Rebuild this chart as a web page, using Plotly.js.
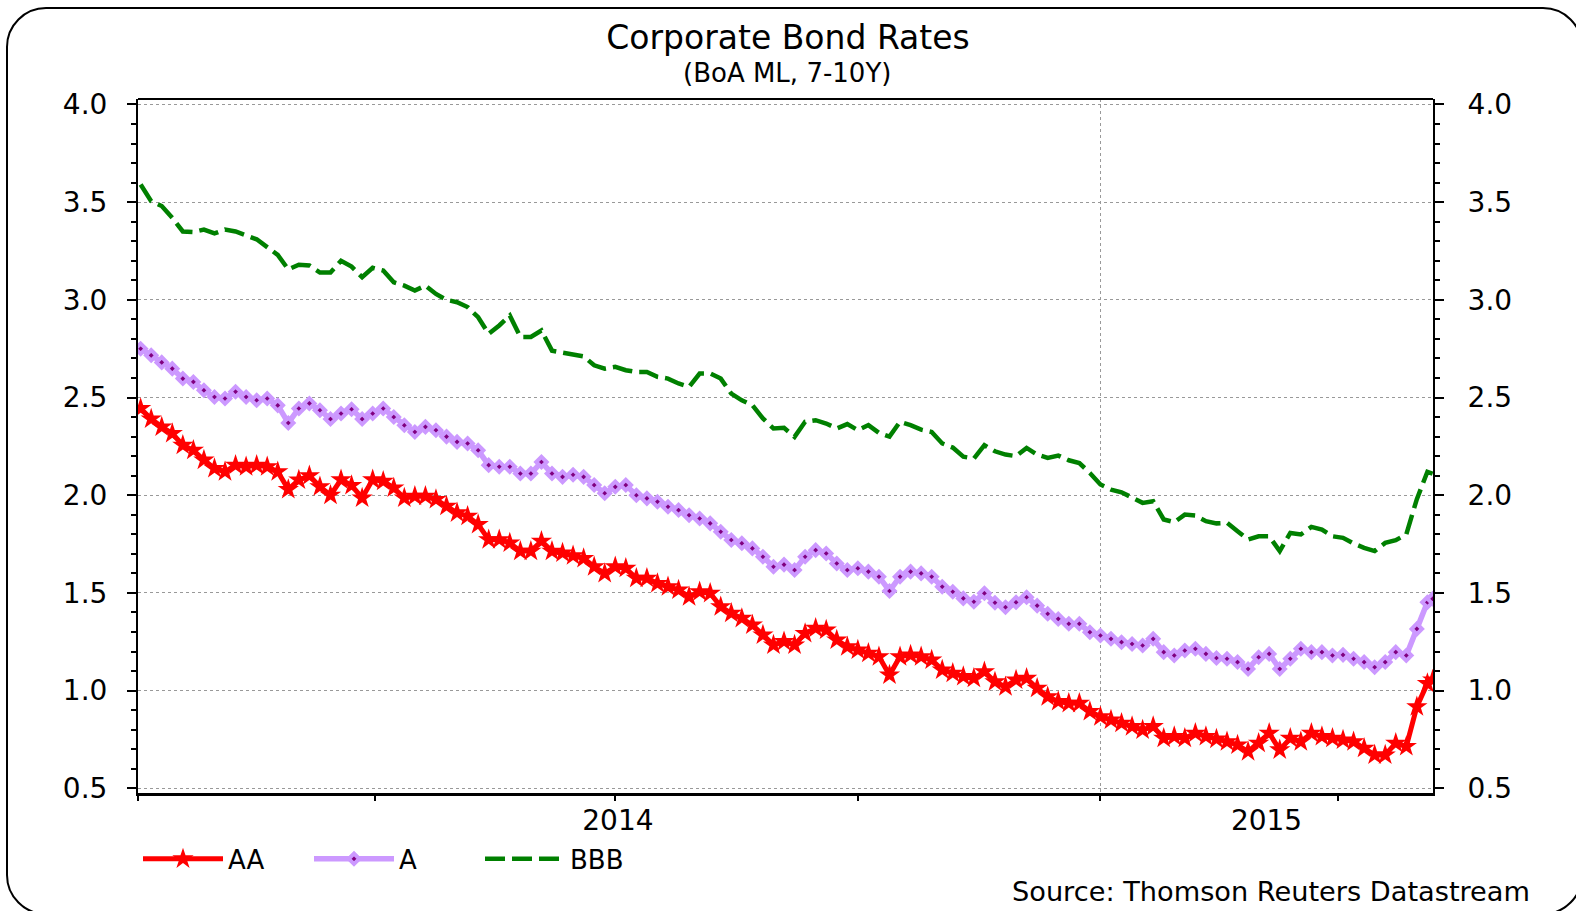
<!DOCTYPE html>
<html>
<head>
<meta charset="utf-8">
<script src="https://cdn.plot.ly/plotly-3.0.1.min.js"></script>
<style>
  html, body { margin: 0; padding: 0; background: #fff; overflow: hidden; }
  #wrap { position: relative; width: 1576px; height: 911px; overflow: hidden; }
  #chart { position: absolute; left: 0; top: 0; width: 1576px; height: 911px; }
  #frame { position: absolute; left: 6px; top: 7px; width: 1577px; height: 908px;
           border: 2px solid #000; border-radius: 40px; box-sizing: border-box; pointer-events: none; }
</style>
</head>
<body>
<div id="wrap"><div id="chart"></div><div id="frame"></div></div>
<script>
const dates = [
 '2014-01-02','2014-01-06','2014-01-10','2014-01-14','2014-01-18','2014-01-22','2014-01-26','2014-01-30',
 '2014-02-03','2014-02-07','2014-02-11','2014-02-15','2014-02-19','2014-02-23','2014-02-27',
 '2014-03-03','2014-03-07','2014-03-11','2014-03-15','2014-03-19','2014-03-23','2014-03-27','2014-03-31',
 '2014-04-04','2014-04-08','2014-04-12','2014-04-16','2014-04-20','2014-04-24','2014-04-28',
 '2014-05-02','2014-05-06','2014-05-10','2014-05-14','2014-05-18','2014-05-22','2014-05-26','2014-05-30',
 '2014-06-03','2014-06-07','2014-06-11','2014-06-15','2014-06-19','2014-06-23','2014-06-27',
 '2014-07-01','2014-07-05','2014-07-09','2014-07-13','2014-07-17','2014-07-21','2014-07-25','2014-07-29',
 '2014-08-02','2014-08-06','2014-08-10','2014-08-14','2014-08-18','2014-08-22','2014-08-26','2014-08-30',
 '2014-09-03','2014-09-07','2014-09-11','2014-09-15','2014-09-19','2014-09-23','2014-09-27',
 '2014-10-01','2014-10-05','2014-10-09','2014-10-13','2014-10-17','2014-10-21','2014-10-25','2014-10-29',
 '2014-11-02','2014-11-06','2014-11-10','2014-11-14','2014-11-18','2014-11-22','2014-11-26','2014-11-30',
 '2014-12-04','2014-12-08','2014-12-12','2014-12-16','2014-12-20','2014-12-24','2014-12-28',
 '2015-01-01','2015-01-05','2015-01-09','2015-01-13','2015-01-17','2015-01-21','2015-01-25','2015-01-29',
 '2015-02-02','2015-02-06','2015-02-10','2015-02-14','2015-02-18','2015-02-22','2015-02-26',
 '2015-03-02','2015-03-06','2015-03-10','2015-03-14','2015-03-18','2015-03-22','2015-03-26','2015-03-30',
 '2015-04-03','2015-04-07','2015-04-11','2015-04-15','2015-04-19','2015-04-23','2015-04-27',
 '2015-05-01','2015-05-05','2015-05-07'
];

const aaRates = [
 2.444, 2.39, 2.35, 2.316, 2.256, 2.23, 2.18, 2.137,
 2.12, 2.154, 2.146, 2.154, 2.146, 2.12, 2.03,
 2.078, 2.10, 2.044, 2.0, 2.08, 2.05, 1.986, 2.08,
 2.072, 2.037, 1.986, 1.995, 1.995, 1.978, 1.944,
 1.91, 1.893, 1.85, 1.773, 1.773, 1.756, 1.714, 1.714,
 1.765, 1.714, 1.705, 1.69, 1.677, 1.634, 1.60,
 1.634, 1.626, 1.575, 1.575, 1.549, 1.532, 1.515, 1.481,
 1.506, 1.498, 1.43, 1.396, 1.37, 1.336, 1.285, 1.234,
 1.251, 1.234, 1.293, 1.319, 1.31, 1.259, 1.225,
 1.208, 1.191, 1.174, 1.08, 1.174, 1.183, 1.174, 1.157,
 1.106, 1.089, 1.072, 1.063, 1.097, 1.045, 1.02, 1.055,
 1.063, 1.012, 0.969, 0.944, 0.935, 0.935, 0.893,
 0.867, 0.85, 0.833, 0.816, 0.799, 0.816, 0.756, 0.765,
 0.756, 0.782, 0.765, 0.752, 0.739, 0.722, 0.688,
 0.731, 0.782, 0.697, 0.756, 0.739, 0.782, 0.765, 0.756,
 0.748, 0.739, 0.705, 0.671, 0.671, 0.731, 0.714,
 0.918, 1.037, 1.055
];

const aRates = [
 2.75, 2.716, 2.68, 2.648, 2.597, 2.58, 2.537, 2.503,
 2.495, 2.53, 2.503, 2.486, 2.495, 2.46, 2.37,
 2.444, 2.47, 2.435, 2.39, 2.418, 2.44, 2.39, 2.418,
 2.444, 2.40, 2.358, 2.324, 2.35, 2.333, 2.30,
 2.273, 2.265, 2.23, 2.154, 2.146, 2.146, 2.111, 2.111,
 2.17, 2.111, 2.094, 2.105, 2.094, 2.052, 2.01,
 2.043, 2.052, 2.0, 1.984, 1.967, 1.941, 1.924, 1.898,
 1.881, 1.856, 1.813, 1.771, 1.754, 1.728, 1.685, 1.634,
 1.645, 1.617, 1.685, 1.719, 1.702, 1.651, 1.617,
 1.626, 1.609, 1.583, 1.51, 1.583, 1.609, 1.60, 1.583,
 1.532, 1.506, 1.472, 1.455, 1.498, 1.45, 1.427, 1.452,
 1.478, 1.435, 1.393, 1.367, 1.342, 1.342, 1.299,
 1.282, 1.265, 1.248, 1.239, 1.231, 1.265, 1.197, 1.18,
 1.205, 1.214, 1.188, 1.167, 1.163, 1.146, 1.111,
 1.171, 1.188, 1.111, 1.163, 1.214, 1.197, 1.197, 1.18,
 1.183, 1.163, 1.146, 1.12, 1.146, 1.197, 1.18,
 1.316, 1.452, 1.47
];

const bbbRates = [
 3.59, 3.505, 3.48, 3.42, 3.35, 3.347, 3.36, 3.34,
 3.36, 3.35, 3.33, 3.31, 3.27, 3.23, 3.156,
 3.18, 3.176, 3.14, 3.14, 3.2, 3.17, 3.116, 3.164,
 3.15, 3.09, 3.073, 3.048, 3.073, 3.03, 3.0,
 2.988, 2.963, 2.911, 2.826, 2.869, 2.92, 2.81, 2.81,
 2.843, 2.74, 2.73, 2.72, 2.711, 2.665, 2.648,
 2.657, 2.64, 2.631, 2.631, 2.606, 2.597, 2.572, 2.555,
 2.623, 2.623, 2.597, 2.52, 2.486, 2.461, 2.393, 2.342,
 2.345, 2.299, 2.376, 2.384, 2.367, 2.342, 2.364,
 2.333, 2.359, 2.319, 2.30, 2.376, 2.359, 2.336, 2.324,
 2.265, 2.244, 2.197, 2.188, 2.256, 2.225, 2.208, 2.2,
 2.242, 2.208, 2.191, 2.203, 2.179, 2.165, 2.114,
 2.055, 2.029, 2.015, 1.991, 1.961, 1.969, 1.876, 1.862,
 1.901, 1.896, 1.867, 1.856, 1.859, 1.816, 1.773,
 1.79, 1.79, 1.714, 1.807, 1.799, 1.838, 1.824, 1.79,
 1.782, 1.753, 1.731, 1.714, 1.756, 1.77, 1.80,
 1.98, 2.12, 2.11
];

const seriesNames = ['AA', 'A', 'BBB'];
const yearLabelPos = ['2014-07-02', '2015-03-05'];
const yearLabels = ['2014', '2015'];
const yearTicks = ['2014-01-01', '2015-01-01'];
const xRange = ['2014-01-01', '2015-05-07 03:00'];
const yRange = [0.476, 4.028];

const FONT = 'DejaVu Sans, Liberation Sans, Arial, sans-serif';

const traces = [
  {
    x: dates, y: bbbRates, name: seriesNames[2], type: 'scatter', mode: 'lines',
    xaxis: 'x', yaxis: 'y2',
    line: {color: '#008000', width: 4.5, dash: '20px,7px'}
  },
  {
    x: dates, y: aRates, name: seriesNames[1], type: 'scatter', mode: 'lines+markers',
    xaxis: 'x', yaxis: 'y',
    line: {color: '#cc99ff', width: 5.5},
    marker: {symbol: 'diamond', size: 8, color: '#800080', line: {width: 4, color: '#cc99ff'}}
  },
  {
    x: dates, y: aaRates, name: seriesNames[0], type: 'scatter', mode: 'lines+markers',
    xaxis: 'x2', yaxis: 'y',
    line: {color: '#ff0000', width: 5},
    marker: {symbol: 'star', size: 16, color: '#ff0000', line: {width: 0}}
  }
];

const axisY = {
  range: yRange, autorange: false, dtick: 0.5, tick0: 0, tickformat: '.1f',
  ticks: 'outside', ticklen: 9, tickwidth: 2, tickcolor: '#000',
  showline: true, linewidth: 2, linecolor: '#000',
  tickfont: {family: FONT, size: 28, color: '#000'},
  minor: {dtick: 0.1, tick0: 0, ticks: 'outside', ticklen: 5, tickwidth: 2, tickcolor: '#000', showgrid: false},
  zeroline: false, fixedrange: true
};

const layout = {
  width: 1576, height: 911,
  margin: {l: 138, r: 143, t: 99, b: 118},
  paper_bgcolor: '#fff', plot_bgcolor: '#fff',
  font: {family: FONT, color: '#000'},
  title: {
    text: 'Corporate Bond Rates',
    font: {family: FONT, size: 33, color: '#000'},
    x: 0.5, xref: 'container', xanchor: 'center',
    y: 1 - 37 / 911, yref: 'container', yanchor: 'middle'
  },
  showlegend: true,
  legend: {
    orientation: 'h', x: 0.0, xanchor: 'left', y: -0.095, yanchor: 'middle',
    font: {family: FONT, size: 26, color: '#000'},
    itemwidth: 80, entrywidth: 76, entrywidthmode: 'pixels',
    bgcolor: 'rgba(0,0,0,0)', traceorder: 'reversed'
  },
  xaxis: {
    type: 'date', range: xRange, autorange: false,
    tickmode: 'array', tickvals: yearTicks, ticktext: ['', ''],
    ticks: 'outside', ticklen: 10, tickwidth: 2, tickcolor: '#000',
    showticklabels: false,
    showline: true, linewidth: 3, linecolor: '#000',
    showgrid: true, gridcolor: '#999', griddash: 'dot', gridwidth: 1,
    minor: {dtick: 'M3', tick0: '2014-01-01', ticks: 'outside', ticklen: 5, tickwidth: 2, tickcolor: '#000', showgrid: false},
    zeroline: false, fixedrange: true
  },
  xaxis2: {
    type: 'date', range: xRange, autorange: false, overlaying: 'x', anchor: 'y', side: 'bottom',
    tickmode: 'array', tickvals: yearLabelPos, ticktext: yearLabels,
    ticks: '', showline: false, showgrid: false, zeroline: false,
    tickfont: {family: FONT, size: 28, color: '#000'}, ticklabelstandoff: 8, fixedrange: true
  },
  yaxis: Object.assign({}, axisY, {
    side: 'left', showgrid: true, gridcolor: '#999', griddash: 'dot', gridwidth: 1, ticklabelstandoff: 14
  }),
  yaxis2: Object.assign({}, axisY, {
    side: 'right', overlaying: 'y', anchor: 'x', showgrid: false, ticklabelstandoff: 18
  }),
  shapes: [
    {type: 'line', xref: 'paper', yref: 'paper', x0: 0, x1: 1, y0: 1, y1: 1, line: {color: '#000', width: 2}}
  ],
  annotations: [
    {text: '(BoA ML, 7-10Y)', xref: 'paper', yref: 'paper', x: 0.501, y: 1 + 26 / 694,
     xanchor: 'center', yanchor: 'middle', showarrow: false, font: {family: FONT, size: 26, color: '#000'}},
    {text: 'Source: Thomson Reuters Datastream', xref: 'paper', yref: 'paper', x: (1532 - 138) / 1295, y: -98 / 694,
     xanchor: 'right', yanchor: 'middle', showarrow: false, font: {family: FONT, size: 27.2, color: '#000'}}
  ]
};

Plotly.newPlot('chart', traces, layout, {staticPlot: true, displayModeBar: false});
</script>
</body>
</html>
